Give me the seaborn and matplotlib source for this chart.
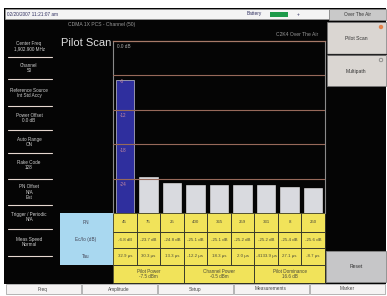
import matplotlib
matplotlib.use("Agg")
import matplotlib.pyplot as plt
import matplotlib.transforms as mtransforms
from matplotlib.patches import Rectangle, Circle
import seaborn as sns
import pandas as pd

# ---------------- data ----------------
pn_codes = ["45", "75", "25", "400", "365", "259", "331", "8", "250"]
ec_io_db = [-6.8, -23.7, -24.8, -25.1, -25.1, -25.2, -25.2, -25.4, -25.6]
tau_us = ["32.9 µs", "30.3 µs", "13.3 µs", "-12.2 µs", "18.3 µs", "2.0 µs",
          "-4133.9 µs", "27.1 µs", "-8.7 µs"]
axis_floor_db = -30.0
axis_top_db = 0.0
grid_db = [-6, -12, -18, -24]
summary_labels = ["Pilot Power", "Channel Power", "Pilot Dominance"]
summary_values = ["-7.5 dBm", "-0.5 dBm", "16.6 dB"]
left_menu = [
    ("Center Freq\n1,902.900 MHz", 46, 57),
    ("Channel\n50", 68, 79),
    ("Reference Source\nInt Std Accy", 93, 106),
    ("Power Offset\n0.0 dB", 118, 130),
    ("Auto Range\nON", 142, 153),
    ("Rake Code\n128", 165, 179),
    ("PN Offset\nN/A\nEst", 192, 205),
    ("Trigger / Periodic\nN/A", 217, 229),
    ("Meas Speed\nNormal", 242, 256),
]
bottom_menu = ["Freq", "Amplitude", "Setup", "Measurements", "Marker"]

sns.set_theme(style="dark")
plt.rcParams["font.family"] = ["Liberation Sans", "DejaVu Sans"]

W, H = 387, 296
fig = plt.figure(figsize=(W / 100, H / 100), dpi=100, facecolor="white")

ui = fig.add_axes([0, 0, 1, 1], zorder=0)
ui.set_xlim(0, W)
ui.set_ylim(H, 0)
ui.axis("off")


def rect(x0, y0, x1, y1, fc, ec="none", lw=0.5, z=1):
    ui.add_patch(Rectangle((x0, y0), x1 - x0, y1 - y0, facecolor=fc,
                           edgecolor=ec, linewidth=lw, zorder=z))


def txt(x, y, s, size=3.4, color="#d8d8d8", ha="center", va="center", z=5, **kw):
    ui.text(x, y, s, fontsize=size, color=color, ha=ha, va=va, zorder=z,
            linespacing=1.05, **kw)


# screen background
rect(4, 8, 386, 284, "#050505")
# status bar
rect(5, 9, 329, 19, "#f4f4f4", ec="#9a9a9a", lw=0.5, z=2)
txt(7, 14, "02/20/2007 11:21:07 am", size=3.4, color="#303060", ha="left")
txt(254, 14, "Battery", size=3.4, color="#303060")
rect(270, 11.5, 288, 16.5, "#1d9a4a", z=3)
txt(298, 14, "+", size=3.4, color="#303060")
rect(329, 9, 386, 20, "#c9c9c9", ec="#888", lw=0.5, z=2)
txt(357, 14.5, "Over The Air", size=3.4, color="#333")

txt(102, 24.5, "CDMA 1X PCS - Channel (50)", size=3.6, color="#9a9a9a")
txt(297, 34.5, "C2K4 Over The Air", size=3.6, color="#9a9a9a")
txt(61, 42.5, "Pilot Scan", size=8, color="#e0e0e0", ha="left")

# left menu
for label, yc, ysep in left_menu:
    txt(29, yc, label, size=3.3, color="#d0d0d0")
    ui.plot([8, 52], [ysep, ysep], color="#e6d8d0", lw=0.8, zorder=3)

# right soft keys
rect(327, 22, 386, 53.5, "#dad6d2", ec="#777", lw=0.5, z=2)
txt(356, 38, "Pilot Scan", size=3.6, color="#333")
ui.add_patch(Circle((381, 27), 2.2, facecolor="#e4824a", edgecolor="none", zorder=3))
ui.plot([327, 386], [53.8, 53.8], color="#222", lw=0.9, zorder=3)
rect(327, 54.5, 386, 86, "#dad6d2", ec="#777", lw=0.5, z=2)
txt(356, 71, "Multipath", size=3.6, color="#333")
ui.add_patch(Circle((381, 60), 1.8, facecolor="none", edgecolor="#777", lw=0.5, zorder=3))
rect(326, 251, 386, 282, "#c6c6c8", ec="#888", lw=0.6, z=2)
txt(356, 266.5, "Reset", size=3.6, color="#333")

# bottom menu
bx0, bx1 = 5, 385
bw = (bx1 - bx0) / len(bottom_menu)
for i, name in enumerate(bottom_menu):
    rect(bx0 + i * bw + 0.5, 284, bx0 + (i + 1) * bw - 0.5, 293.5, "#f5f3f3",
         ec="#9a9a9a", lw=0.5, z=2)
    txt(bx0 + (i + 0.5) * bw, 289, name, size=3.4, color="#444")

# ---------------- chart ----------------
px_left, px_right, px_top, px_bottom = 113, 325, 41, 213
ax = fig.add_axes([px_left / W, 1 - px_bottom / H, (px_right - px_left) / W,
                   (px_bottom - px_top) / H], zorder=3)
ax.set_facecolor("#050505")

df = pd.DataFrame({"pn": pn_codes, "ec_io": ec_io_db})
df["height"] = df["ec_io"] - axis_floor_db
bar_colors = ["#2f2f9e"] + ["#d9dadf"] * (len(pn_codes) - 1)
sns.barplot(data=df, x="pn", y="height", hue="pn", order=pn_codes,
            hue_order=pn_codes, palette=bar_colors, legend=False,
            width=0.78, saturation=1, ax=ax, edgecolor="#f0eeee", linewidth=0.4,
            zorder=2)
ax.set_xlim(-0.5, len(pn_codes) - 0.5)
ax.set_ylim(0, axis_top_db - axis_floor_db)
ax.set_xticks([])
ax.set_yticks([])
ax.set_xlabel("")
ax.set_ylabel("")
ax.grid(False)
for g in grid_db:
    ax.axhline(g - axis_floor_db, color="#97695a", lw=0.8, zorder=3)
blend = mtransforms.blended_transform_factory(ax.transAxes, ax.transData)
for g in grid_db:
    ax.text(0.03, g - axis_floor_db - 0.6, f"{g}", transform=blend,
            fontsize=3.3, color="#c88aa0", ha="left", va="top", zorder=4)
ax.text(0.02, 0.985, f"{axis_top_db:.1f} dB", transform=ax.transAxes,
        fontsize=3.4, color="#b0b0b0", ha="left", va="top", zorder=4)
for side, spine in ax.spines.items():
    spine.set_visible(side in ("top", "left", "right"))
ax.spines["top"].set_color("#a77a68")
ax.spines["top"].set_linewidth(0.9)
ax.spines["left"].set_color("#8a8a8a")
ax.spines["left"].set_linewidth(0.8)
ax.spines["right"].set_color("#8a8a8a")
ax.spines["right"].set_linewidth(0.8)

# ---------------- table ----------------
n = len(pn_codes)
col_w = (px_right - px_left) / n
rows_y = [213, 231.5, 248, 265, 283]
rect(60, 213, px_left, 265, "#a9d8f0", z=2)
txt(86, 223, "PN", size=3.4, color="#445")
txt(86, 240, "Ec/Io (dB)", size=3.4, color="#445")
txt(86, 257, "Tau", size=3.4, color="#445")
rect(px_left, rows_y[0], px_right, rows_y[-1], "#f1e35a", z=2)
ec_txt = [f"{v:.1f} dB" for v in ec_io_db]
row_vals = [pn_codes, ec_txt, tau_us]
for r in range(3):
    for c in range(n):
        x0 = px_left + c * col_w
        rect(x0, rows_y[r], x0 + col_w, rows_y[r + 1], "none", ec="#3a3a2a", lw=0.6, z=3)
        ui.text(x0 + col_w / 2, (rows_y[r] + rows_y[r + 1]) / 2, row_vals[r][c],
                fontsize=3.2, color="#4a4a3a", ha="center", va="center", zorder=4,
                clip_on=True)
for k in range(3):
    x0 = px_left + 3 * k * col_w
    rect(x0, rows_y[3], x0 + 3 * col_w, rows_y[4], "none", ec="#3a3a2a", lw=0.6, z=3)
    txt(x0 + 1.5 * col_w, (rows_y[3] + rows_y[4]) / 2,
        f"{summary_labels[k]}\n{summary_values[k]}", size=3.3, color="#4a4a3a")

fig.savefig("out.png", dpi=100, facecolor="white")
